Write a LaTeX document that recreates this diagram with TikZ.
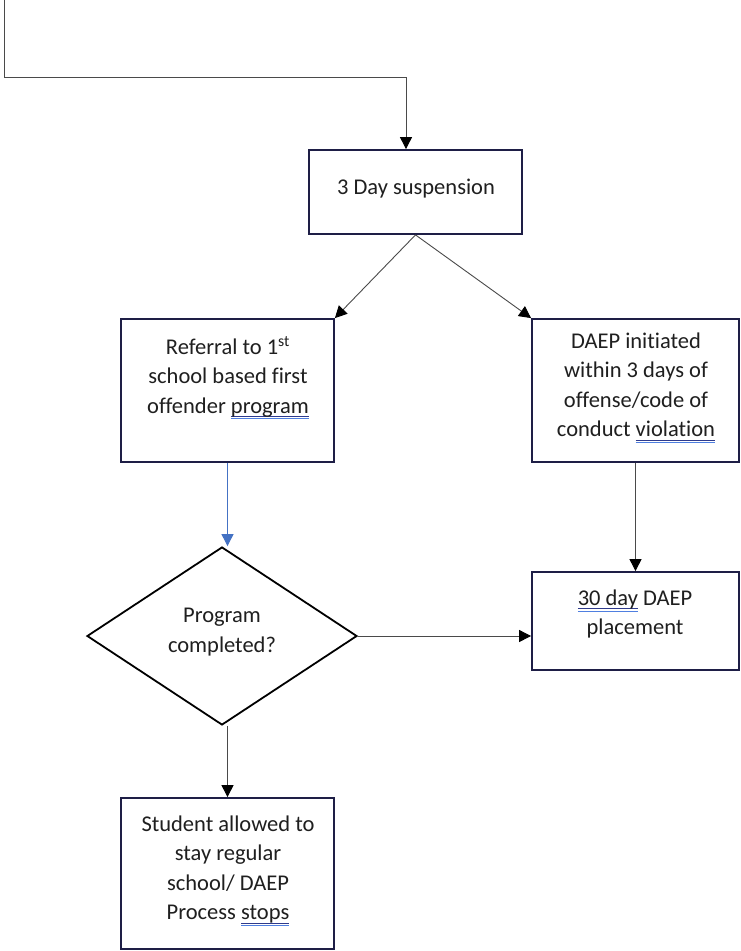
\documentclass[tikz,border=0pt]{standalone}
\usepackage{fontspec}
\setmainfont{Carlito}[Ligatures=NoCommon]
\usetikzlibrary{shapes.geometric,arrows.meta}

\definecolor{boxline}{HTML}{1E1E46}
\definecolor{linkgray}{HTML}{4A4A4A}
\definecolor{flowblue}{HTML}{4472C4}
\definecolor{markdark}{HTML}{2E3A8C}
\definecolor{marklight}{HTML}{4F7FE0}

% double spell-check style underline
\newcommand\spellmark[1]{\setbox0=\hbox{#1}%
  \rlap{\color{markdark}\raisebox{-4pt}{\rule{\wd0}{0.9pt}}}%
  \rlap{\color{marklight}\raisebox{-6.2pt}{\rule{\wd0}{0.9pt}}}%
  \box0\relax}

\tikzset{
  stepbox/.style={draw=boxline, line width=1.8pt, rectangle, inner sep=0pt},
  decision/.style={draw=black, line width=1.8pt, diamond, inner sep=0pt, aspect=1.5},
  label/.style={align=center, inner sep=0pt, font=\fontsize{22.5}{29.5}\selectfont, text=black!88},
  link/.style={draw=linkgray, line width=0.9pt, -{Triangle[length=12pt,width=12pt,color=black]}},
  bluelink/.style={draw=flowblue, line width=0.9pt, -{Triangle[length=12pt,width=12pt]}},
}

\begin{document}
\begin{tikzpicture}[x=1pt,y=-1pt]
\useasboundingbox (0,0) rectangle (740,951);
\fill[white] (0,0) rectangle (740,951);

% boxes
\node[stepbox, minimum width=213pt, minimum height=84pt] (susp) at (415.5,192) {};
\node[stepbox, minimum width=213pt, minimum height=143pt] (refer) at (227.5,390.5) {};
\node[stepbox, minimum width=207pt, minimum height=143pt] (daep) at (635.5,390.5) {};
\node[stepbox, minimum width=207pt, minimum height=98pt] (place) at (635.5,621) {};
\node[stepbox, minimum width=213pt, minimum height=151pt] (stud) at (227.5,873.5) {};
\node[decision, minimum width=270pt, minimum height=178pt] (dia) at (222,636) {};

% texts
\node[label] (suspt) at (416,189) {3 Day suspension};
\node[label] (refert) at (228,378) {Referral to 1\textsuperscript{st}\\school based first\\offender \spellmark{program}};
\node[label] (daept) at (636,388) {DAEP initiated\\within 3 days of\\offense/code of\\conduct \spellmark{violation}};
\node[label] (placet) at (635,614) {\spellmark{30 day} DAEP\\placement};
\node[label] (diat) at (222,632) {Program\\completed?};
\node[label] (studt) at (228,871) {Student allowed to\\stay regular\\school/ DAEP\\Process \spellmark{stops}};

% connectors
\coordinate (entry) at (4,-2);
\coordinate (bend) at (406,77);
\draw[link] (entry) |- (bend) -- (bend |- susp.north);
\draw[link] (susp.south) -- (refer.north east);
\draw[link] (susp.south) -- (daep.north west);
\draw[bluelink] (refer.south) -- (refer.south |- dia.north);
\draw[link] (daep.south) -- (place.north);
\draw[link] (dia.east) -- (place.west |- dia.east);
\draw[link] (stud.north |- dia.south) -- (stud.north);
\end{tikzpicture}
\end{document}
